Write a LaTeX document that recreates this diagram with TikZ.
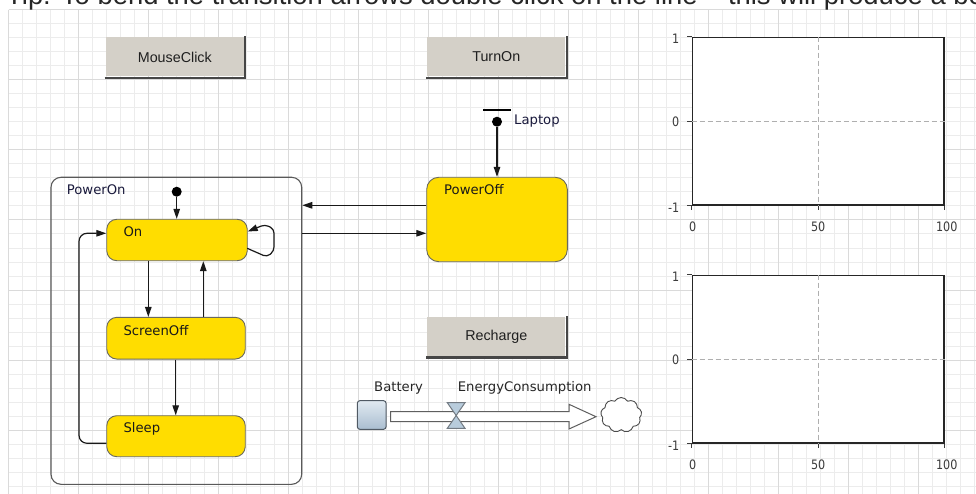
\documentclass[tikz,border=0pt]{standalone}
\usepackage{fontspec}
\setmainfont{DejaVu Sans}
\newfontfamily\arialf{Liberation Sans}
\newfontfamily\tickf[FakeStretch=0.86]{DejaVu Sans}
\usetikzlibrary{arrows.meta,shapes.symbols,calc}

\definecolor{gridminor}{RGB}{236,236,236}
\definecolor{gridmajor}{RGB}{218,218,218}
\definecolor{statefill}{RGB}{255,221,0}
\definecolor{stateborder}{RGB}{105,105,95}
\definecolor{btnfill}{RGB}{212,208,200}
\definecolor{btnshadow}{RGB}{70,70,70}
\definecolor{labelc}{RGB}{25,25,60}
\definecolor{stockTop}{RGB}{224,233,241}
\definecolor{stockBot}{RGB}{170,190,208}
\definecolor{stockborder}{RGB}{80,90,100}
\definecolor{pipec}{RGB}{95,95,95}
\definecolor{valvefill}{RGB}{184,204,220}
\definecolor{dashc}{RGB}{175,175,175}
\definecolor{tickc}{RGB}{60,60,60}
\definecolor{linec}{RGB}{25,25,25}

\tikzset{
  statebox/.style={draw=stateborder, line width=0.9pt, fill=statefill, rounded corners=10pt, inner sep=0pt},
  container/.style={draw=black!65, line width=1.1pt, rounded corners=10pt, inner sep=0pt},
  btn/.style={fill=btnfill, inner sep=0pt, minimum width=138pt, minimum height=39pt, text=black!88, font=\arialf\fontsize{14.3}{16}\selectfont},
  btnedge/.style={draw=btnshadow, line width=2.4pt},
  arr/.style={draw=linec, line width=1.2pt, -{Triangle[length=10pt,width=6.5pt]}},
  lab/.style={anchor=base west, inner sep=0pt, font=\fontsize{13.2}{15}\selectfont},
  stlab/.style={lab, text=black!90},
  namelab/.style={lab, text=labelc},
  dotnode/.style={circle, fill=black, inner sep=0pt, minimum size=10pt},
  chartbox/.style={draw=black!85, line width=1.5pt, fill=white, inner sep=0pt, minimum width=251.7pt, minimum height=167.7pt},
  chartdash/.style={draw=dashc, line width=1pt, dash pattern=on 5pt off 3pt},
  charttick/.style={draw=tickc, line width=1pt},
  ticklab/.style={inner sep=0pt, text=tickc, font=\tickf\fontsize{13}{15}\selectfont},
  pipe/.style={draw=pipec, line width=1pt, fill=white, line join=miter},
  valve/.style={draw=stockborder!80, line width=1pt, fill=valvefill, line join=miter},
  cloudnode/.style={cloud, cloud puffs=9, cloud puff arc=120, aspect=1.15, draw=black!70, line width=0.9pt, fill=white, minimum width=41pt, minimum height=35pt, inner sep=0pt}
}

\begin{document}
\begin{tikzpicture}[x=1pt,y=-1pt]
\useasboundingbox (0,0) rectangle (976,494);
\fill[white] (0,0) rectangle (976,494);

% grid
\foreach \i in {0,...,69} {
  \draw[gridminor, line width=1pt] ({8.5+14*\i},10) -- ({8.5+14*\i},494);
}
\foreach \j in {0,...,34} {
  \draw[gridminor, line width=1pt] (8.5,{10+14*\j}) -- (976,{10+14*\j});
}
\foreach \i in {0,...,13} {
  \draw[gridmajor, line width=1pt] ({8.5+70*\i},10) -- ({8.5+70*\i},494);
}
\foreach \j in {0,...,6} {
  \draw[gridmajor, line width=1pt] (8.5,{10+70*\j}) -- (976,{10+70*\j});
}

% cut-off tip text at the top
\node[anchor=base west, inner sep=0pt, text=black!85, font=\arialf\fontsize{27.4}{30}\selectfont] (tip) at (6,4.8)
  {Tip: To bend the transition arrows double click on the line – this will produce a bend point};

% buttons
\node[btn] (mouseclick) at (174.8,57) {MouseClick};
\node[btn] (turnon) at (496.3,57) {TurnOn};
\node[btn] (recharge) at (496.3,336.7) {Recharge};
\foreach \b in {mouseclick,turnon,recharge} {
  \draw[btnedge] ([xshift=-1pt,yshift=-1.2pt]\b.south west) -- ([xshift=1.2pt,yshift=-1.2pt]\b.south east) -- ([xshift=1.2pt,yshift=1pt]\b.north east);
}

% PowerOn composite state
\node[container, minimum width=250.7pt, minimum height=307pt] (poweron) at (176.35,330.8) {};
\node[namelab] (poweronlab) at (66.7,195) {PowerOn};

% states
\node[statebox, minimum width=140.5pt, minimum height=41.4pt] (on) at (177,240) {};
\node[statebox, minimum width=138.5pt, minimum height=41.7pt] (screenoff) at (176,338.2) {};
\node[statebox, minimum width=138.5pt, minimum height=41pt] (sleep) at (176,436.2) {};
\node[statebox, rounded corners=12pt, minimum width=140.6pt, minimum height=84.4pt] (poweroff) at (497,219.5) {};

\node[stlab] (onlab) at (123.3,236.7) {On};
\node[stlab] (screenofflab) at (123.3,335) {ScreenOff};
\node[stlab] (sleeplab) at (123.3,432.7) {Sleep};
\node[stlab] (poweronofflab) at (444,195) {PowerOff};

% initial pointers
\node[dotnode] (init1) at (176.7,191.7) {};
\draw[arr] (init1) -- (init1 |- on.north);

\node[fill=black, minimum width=28pt, minimum height=2.6pt, inner sep=0pt] (laptopbar) at (496.7,110) {};
\node[dotnode] (init2) at (497,121.7) {};
\node[namelab] (laptoplab) at (514,125) {Laptop};
\draw[arr] (init2) -- (init2 |- poweroff.north);

% transitions inside PowerOn
\draw[arr] ([xshift=-28.7pt]on.south) -- ([xshift=-28.7pt]on.south |- screenoff.north);
\draw[arr] ([xshift=26.3pt]on.south |- screenoff.north) -- ([xshift=26.3pt]on.south);
\draw[arr] ([xshift=-0.3pt]screenoff.south) -- ([xshift=-0.3pt]screenoff.south |- sleep.north);

\coordinate (sl1) at (79,443.3);
\coordinate (sl2) at (79,233.3);
\draw[arr, rounded corners=8pt] ([yshift=-7pt]sleep.west) -- (sl1) -- (sl2) -- ([yshift=6.7pt]on.west);

% self loop on On
\coordinate (lp1) at (267,257);
\coordinate (lp2) at (274,251);
\coordinate (lp3) at (274,229);
\coordinate (lp4) at (265,224.5);
\draw[arr, rounded corners=4pt] ([xshift=-0.5pt,yshift=-8.3pt]on.east) -- (lp1) -- (lp2) -- (lp3) -- (lp4) -- ([yshift=8.5pt]on.east);

% transitions between PowerOn and PowerOff
\draw[arr] ([yshift=14.2pt]poweroff.west) -- ([yshift=14.2pt]poweroff.west -| poweron.east);
\draw[arr] ([yshift=-13.8pt]poweroff.west -| poweron.east) -- ([yshift=-13.8pt]poweroff.west);

% stock and flow
\node[namelab, text=black!85] (batterylab) at (374,391) {Battery};
\node[namelab, text=black!85] (energylab) at (457.7,391) {EnergyConsumption};
\node[draw=stockborder, line width=1pt, rounded corners=2.5pt, top color=stockTop, bottom color=stockBot, minimum width=28.7pt, minimum height=28.6pt, inner sep=0pt] (battery) at (371.7,415) {};
\node[cloudnode] (sink) at (621.2,415) {};
\draw[pipe] (390.7,411.7) -- (569,411.7) -- (569,404.3) -- (596,416.7) -- (569,429) -- (569,421.7) -- (390.7,421.7) -- cycle;
\draw[valve] (447.3,402.7) -- (465,402.7) -- (447.3,428.3) -- (465,428.3) -- cycle;

% charts
\foreach \c/\cy in {chartA/121.15, chartB/359.15} {
  \node[chartbox] (\c) at (818.15,\cy) {};
  \draw[chartdash] (\c.north) -- (\c.south);
  \draw[chartdash] (\c.west) -- (\c.east);
  \draw[charttick] (\c.north west) -- ++(-4.5,0);
  \draw[charttick] (\c.west) -- ++(-4.5,0);
  \draw[charttick] (\c.south west) -- ++(-4.5,0);
  \draw[charttick] (\c.south west) -- ++(0,4.5);
  \draw[charttick] (\c.south) -- ++(0,4.5);
  \draw[charttick] (\c.south east) -- ++(0,4.5);
  \node[ticklab, anchor=east] (\c y1) at ($(\c.north west)+(-12,2)$) {1};
  \node[ticklab, anchor=east] (\c y0) at ($(\c.west)+(-12,1)$) {0};
  \node[ticklab, anchor=east] (\c ym) at ($(\c.south west)+(-12,2)$) {-1};
  \node[ticklab] (\c x0) at ($(\c.south west)+(1,21)$) {0};
  \node[ticklab] (\c x50) at ($(\c.south)+(0,21)$) {50};
  \node[ticklab] (\c x100) at ($(\c.south east)+(2,21)$) {100};
}
\end{tikzpicture}
\end{document}
